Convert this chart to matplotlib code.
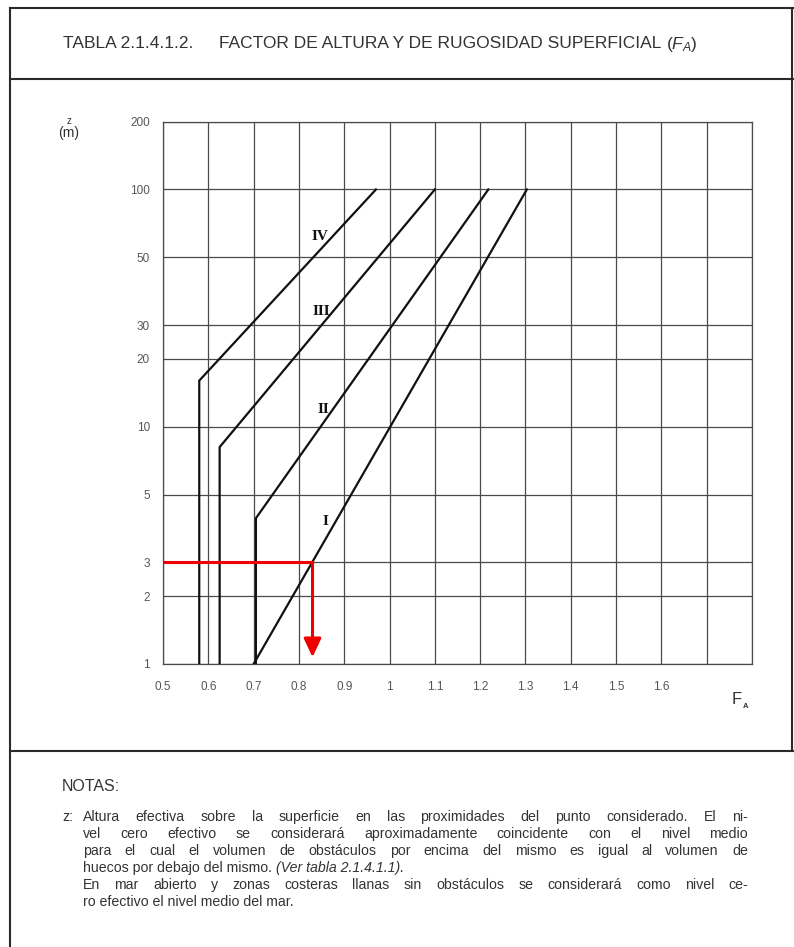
import numpy as np
import matplotlib
matplotlib.use("Agg")
import matplotlib.pyplot as plt
from matplotlib.lines import Line2D

# ---------------- data ----------------
z_ticks = [1, 2, 3, 5, 10, 20, 30, 50, 100, 200]
z_tick_labels = ["1", "2", "3", "5", "10", "20", "30", "50", "100", "200"]
# the chart's own (non-uniform) height scale: position of each z gridline
z_scale_pos = [0, 1, 1.5, 2.5, 3.5, 4.5, 5, 6, 7, 8]

fa_grid = [0.5, 0.6, 0.7, 0.8, 0.9, 1.0, 1.1, 1.2, 1.3, 1.4, 1.5, 1.6, 1.7, 1.8]
fa_ticks = [0.5, 0.6, 0.7, 0.8, 0.9, 1.0, 1.1, 1.2, 1.3, 1.4, 1.5, 1.6]
fa_tick_labels = ["0.5", "0.6", "0.7", "0.8", "0.9", "1", "1.1", "1.2", "1.3", "1.4", "1.5", "1.6"]

curve_names = ["IV", "III", "II", "I"]
curve_fa = [[0.58, 0.58, 0.97], [0.625, 0.625, 1.10], [0.705, 0.705, 1.218], [0.70, 1.303]]
curve_z = [[1, 16.8, 100], [1, 8.5, 100], [1, 4.3, 100], [1, 100]]
label_fa = [0.847, 0.849, 0.855, 0.858]
label_z = [65, 34, 12.5, 4.2]

example_z = 3
example_fa = 0.83
example_arrow_end_z = 1.1

title_code = "TABLA 2.1.4.1.2."
title_text = "FACTOR DE ALTURA Y DE RUGOSIDAD SUPERFICIAL"
title_sym = r"$\mathit{(F_A)}$"
notes_title = "NOTAS:"
notes_lines = [
    ("Altura efectiva sobre la superficie en las proximidades del punto considerado. El ni-", True),
    ("vel cero efectivo se considerará aproximadamente coincidente con el nivel medio", True),
    ("para el cual el volumen de obstáculos por encima del mismo es igual al volumen de", True),
    ("huecos por debajo del mismo.", False),
    ("En mar abierto y zonas costeras llanas sin obstáculos se considerará como nivel ce-", True),
    ("ro efectivo el nivel medio del mar.", False),
]
notes_italic = "(Ver tabla 2.1.4.1.1)."

# ---------------- figure ----------------
W, H = 794, 947
plt.rcParams["font.family"] = ["Liberation Sans", "DejaVu Sans"]
plt.rcParams["mathtext.fontset"] = "custom"
plt.rcParams["mathtext.rm"] = "Liberation Sans"
plt.rcParams["mathtext.it"] = "Liberation Sans:italic"

fig = plt.figure(figsize=(W / 100, H / 100), dpi=100)
fig.patch.set_facecolor("white")
renderer = fig.canvas.get_renderer()
txtc = "#333"


def fx(px):
    return px / W


def fy(py):
    return 1 - py / H


def width_px(t):
    return t.get_window_extent(renderer=renderer).width


ax = fig.add_axes([fx(163), fy(664), (752 - 163) / W, (664 - 121.7) / H])


def fwd(z):
    return np.interp(np.asarray(z, float), z_ticks, z_scale_pos)


def inv(p):
    return np.interp(np.asarray(p, float), z_scale_pos, z_ticks)


ax.set_yscale("function", functions=(fwd, inv))
ax.set_ylim(z_ticks[0], z_ticks[-1])
ax.set_xlim(fa_grid[0], fa_grid[-1])
ax.yaxis.set_minor_locator(matplotlib.ticker.NullLocator())
ax.xaxis.set_minor_locator(matplotlib.ticker.NullLocator())

gridc = "#4a4a4a"
for g in fa_grid:
    ax.axvline(g, color=gridc, lw=0.9, zorder=1)
for z in z_ticks:
    ax.axhline(z, color=gridc, lw=0.9, zorder=1)
for s in ax.spines.values():
    s.set_color(gridc)
    s.set_linewidth(0.9)

ax.set_yticks(z_ticks)
ax.set_yticklabels(z_tick_labels)
ax.set_xticks(fa_ticks)
ax.set_xticklabels(fa_tick_labels)
ax.tick_params(axis="both", length=0, labelsize=8.5, labelcolor="#555")
ax.tick_params(axis="y", pad=9.5)
ax.tick_params(axis="x", pad=12)

for name, xs, zs, lx, lz in zip(curve_names, curve_fa, curve_z, label_fa, label_z):
    ax.plot(xs, zs, color="#111", lw=1.6, zorder=3, solid_joinstyle="miter")
    ax.text(lx, lz, name, family=["Liberation Serif", "DejaVu Serif"], fontweight="bold",
            fontsize=11, ha="center", va="center", color="#111", zorder=4)

# example reading (red)
red = "#f00000"
ax.plot([fa_grid[0], example_fa], [example_z, example_z], color=red, lw=2.2, zorder=5,
        solid_capstyle="butt")
ax.annotate("", xy=(example_fa, example_arrow_end_z), xytext=(example_fa, example_z),
            arrowprops=dict(arrowstyle="-|>,head_length=0.75,head_width=0.35",
                            mutation_scale=15, color=red, lw=2.2,
                            shrinkA=0, shrinkB=0),
            zorder=5)

# axis labels
fig.text(fx(69), fy(121), "z", fontsize=7, ha="center", va="center", color=txtc)
fig.text(fx(69), fy(133), "(m)", fontsize=10, ha="center", va="center", color=txtc)
tF = fig.text(fx(732), fy(700), "F", fontsize=12, ha="left", va="center", color=txtc)
fbb = tF.get_window_extent(renderer=renderer)
fig.text(fx(fbb.x1 + 1), fy(707), "A", fontsize=5.5, fontweight="bold", ha="left",
         va="center", color=txtc)

# frame
framec = "#2a2a2a"
for (x0, y0, x1, y1) in [(10, 8, 794, 8), (10, 79, 794, 79), (10, 751, 794, 751),
                         (10, 8, 10, 947), (792, 8, 792, 751)]:
    fig.add_artist(Line2D([fx(x0), fx(x1)], [fy(y0), fy(y1)], color=framec, lw=1.5,
                          transform=fig.transFigure))

# title: same size for all parts, fitted to span x=63..700
gap1, gap2 = 26, 4
parts = [fig.text(0, fy(44), s, fontsize=10, va="center", color=txtc)
         for s in (title_code, title_text, title_sym)]
w10 = sum(width_px(p) for p in parts)
tfs = 10 * (700 - 63 - gap1 - gap2) / w10
xc = 63
for p, g in zip(parts, (gap1, gap2, 0)):
    p.set_fontsize(tfs)
    p.set_x(fx(xc))
    xc += width_px(p) + g

# notes
fig.text(fx(62), fy(786), notes_title, fontsize=11.5, va="center", color=txtc)
nfs = 10.2
fig.text(fx(62), fy(817), "z:", fontsize=nfs, va="center", color=txtc)
x_left, x_right = 83, 748
for i, (line, just) in enumerate(notes_lines):
    y = 817 + 17 * i
    if just:
        words = line.split(" ")
        texts = [fig.text(0, fy(y), w, fontsize=nfs, va="center", color=txtc) for w in words]
        widths = [width_px(t) for t in texts]
        gap = (x_right - x_left - sum(widths)) / (len(words) - 1)
        xc = x_left
        for t, wd in zip(texts, widths):
            t.set_x(fx(xc))
            xc += wd + gap
    else:
        t = fig.text(fx(x_left), fy(y), line, fontsize=nfs, va="center", color=txtc)
        if i == 3:
            b = t.get_window_extent(renderer=renderer)
            fig.text(fx(b.x1 + 4), fy(y), notes_italic, fontsize=nfs,
                     style="italic", va="center", color=txtc)

fig.savefig("out.png", dpi=100)
